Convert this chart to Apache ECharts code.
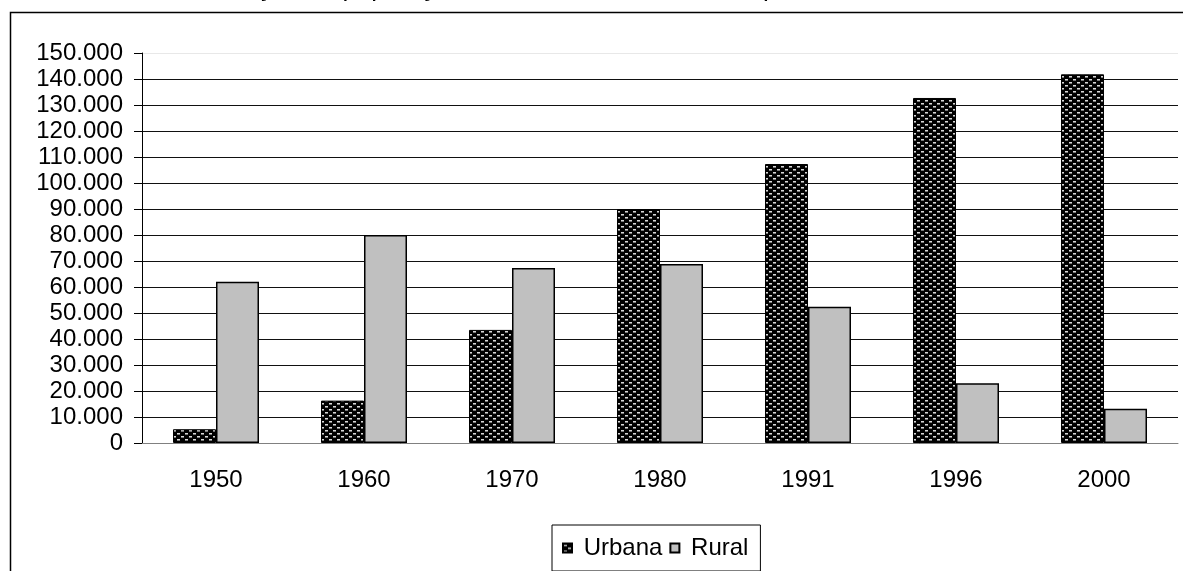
<!DOCTYPE html>
<html>
<head>
<meta charset="utf-8">
<script src="https://cdn.jsdelivr.net/npm/echarts@6/dist/echarts.min.js"></script>
<style>
  html, body { margin: 0; padding: 0; background: #fff; }
  #chart { width: 1183px; height: 571px; }
</style>
</head>
<body>
<div id="chart"></div>
<script>
const titleText = "Evolução da população urbana e rural no Brasil - período, 1950-2000";
const years = ["1950", "1960", "1970", "1980", "1991", "1996", "2000"];
const urbana = [5300, 16300, 43500, 90000, 107300, 132700, 141800];
const rural = [62000, 80000, 67300, 68800, 52400, 23000, 13200];
const yMax = 150000;
const yStep = 10000;

const fontFamily = "'Liberation Sans', Arial, sans-serif";

// dotted fill like the old excel pattern
const makePattern = () => {
  const canvas = document.createElement("canvas");
  canvas.width = 8;
  canvas.height = 6;
  const ctx = canvas.getContext("2d");
  ctx.fillStyle = "#000";
  ctx.fillRect(0, 0, 8, 6);
  ctx.fillStyle = "#d8d8d8";
  ctx.fillRect(1, 1, 3, 1);
  ctx.fillRect(5, 4, 3, 1);
  ctx.fillStyle = "#777";
  ctx.fillRect(1, 2, 3, 1);
  ctx.fillRect(5, 5, 3, 1);
  return canvas;
};

const formatThousands = (value) =>
  String(value).replace(/\B(?=(\d{3})+(?!\d))/g, ".");

const chart = echarts.init(document.getElementById("chart"));

const splitColors = [];
for (let v = 0; v <= yMax; v += yStep) {
  splitColors.push(v === yMax ? "#e8e8e8" : "#111");
}

chart.setOption({
  animation: false,
  backgroundColor: "#fff",
  textStyle: { fontFamily },
  graphic: [
    {
      type: "rect",
      shape: { x: 10.5, y: 12.5, width: 1400, height: 800 },
      style: { fill: "none", stroke: "#000", lineWidth: 1.5 },
      silent: true,
    },
    {
      type: "text",
      x: 591,
      y: -11,
      style: {
        text: titleText,
        fontSize: 26,
        fontFamily,
        fill: "#000",
        align: "center",
        verticalAlign: "middle",
      },
      silent: true,
    },
  ],
  legend: {
    left: 552,
    top: 525,
    padding: [11, 12, 11, 10],
    itemWidth: 9,
    itemHeight: 9,
    itemGap: 7,
    borderColor: "#000",
    borderWidth: 1,
    icon: "rect",
    formatter: (name) => " " + name,
    textStyle: {
      fontSize: 24,
      color: "#000",
      fontFamily,
    },
    data: ["Urbana", "Rural"],
  },
  grid: {
    left: 142,
    right: 5,
    top: 53,
    bottom: 128,
  },
  xAxis: {
    type: "category",
    data: years,
    axisLine: { lineStyle: { color: "#808080", width: 1 } },
    axisTick: { length: 8, lineStyle: { color: "#333" } },
    axisLabel: { fontSize: 24, color: "#000", margin: 25, fontFamily },
    splitLine: { show: false },
  },
  yAxis: {
    type: "value",
    min: 0,
    max: yMax,
    interval: yStep,
    axisLine: { show: true, lineStyle: { color: "#000", width: 1 } },
    axisTick: { show: true, length: 8, lineStyle: { color: "#000" } },
    axisLabel: {
      fontSize: 24,
      color: "#000",
      margin: 19,
      fontFamily,
      formatter: formatThousands,
    },
    splitLine: { show: true, lineStyle: { color: splitColors, width: 1 } },
  },
  series: [
    {
      name: "Urbana",
      type: "bar",
      data: urbana,
      barWidth: 43,
      barGap: "0%",
      itemStyle: {
        color: { image: makePattern(), repeat: "repeat" },
        borderColor: "#000",
        borderWidth: 1,
      },
    },
    {
      name: "Rural",
      type: "bar",
      data: rural,
      barWidth: 43,
      itemStyle: {
        color: "#c0c0c0",
        borderColor: "#000",
        borderWidth: 1.5,
      },
    },
  ],
});
</script>
</body>
</html>
